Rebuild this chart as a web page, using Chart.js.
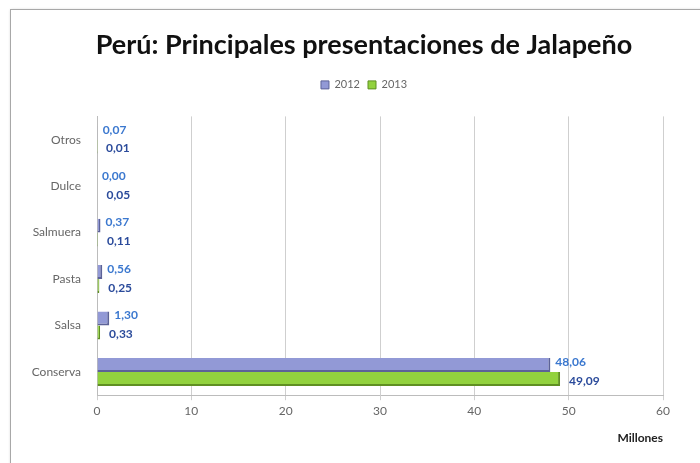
<!DOCTYPE html>
<html>
<head>
<meta charset="utf-8">
<script src="https://cdn.jsdelivr.net/npm/chart.js@4.4.0/dist/chart.umd.min.js"></script>
<style>
  body { margin: 0; background: #fff; }
  #wrap { position: relative; width: 700px; height: 463px; }
  #frame { position: absolute; left: 10px; top: 9px; width: 700px; height: 470px; border: 1px solid #a8a8a8; box-shadow: 1px 1px 3px #bbb; }
  canvas { position: absolute; left: 0; top: 0; }
</style>
</head>
<body>
<div id="wrap">
  <div id="frame"></div>
  <canvas id="jalapenoChart" width="700" height="463"></canvas>
</div>
<script>
// Datos del gráfico
const categories = ['Otros', 'Dulce', 'Salmuera', 'Pasta', 'Salsa', 'Conserva'];
const values2012 = [0.07, 0.00, 0.37, 0.56, 1.30, 48.06];
const values2013 = [0.01, 0.05, 0.11, 0.25, 0.33, 49.09];
const xTicks = [0, 10, 20, 30, 40, 50, 60];

const fontFamily = 'Lato, "Open Sans", sans-serif';

// Etiquetas de valor al final de cada barra
const valueLabels = {
  id: 'valueLabels',
  afterDatasetsDraw(chart) {
    const ctx = chart.ctx;
    ctx.save();
    ctx.font = 'bold 12px ' + fontFamily;
    ctx.textBaseline = 'middle';
    chart.data.datasets.forEach((ds, i) => {
      const meta = chart.getDatasetMeta(i);
      meta.data.forEach((bar, j) => {
        const text = ds.data[j].toFixed(2).replace('.', ',');
        ctx.fillStyle = i === 0 ? '#3b78cf' : '#2b4b9b';
        ctx.fillText(text, bar.x + (i === 0 ? 5 : 9), bar.y + (i === 0 ? -3 : 2));
      });
    });
    ctx.restore();
  }
};

// Espacio extra bajo la leyenda
const legendGap = {
  id: 'legendGap',
  beforeInit(chart) {
    const fit = chart.legend.fit;
    chart.legend.fit = function () {
      fit.bind(chart.legend)();
      this.height += 16;
    };
  }
};

const ctx = document.getElementById('jalapenoChart').getContext('2d');
new Chart(ctx, {
  type: 'bar',
  data: {
    labels: categories,
    datasets: [
      {
        label: '2012',
        data: values2012,
        backgroundColor: '#9299d6',
        borderColor: '#5c6298',
        borderWidth: { top: 0, bottom: 2, right: 2, left: 0 },
      },
      {
        label: '2013',
        data: values2013,
        backgroundColor: '#92d23e',
        borderColor: '#5f8f22',
        borderWidth: { top: 0, bottom: 2, right: 2, left: 0 },
      },
    ],
  },
  options: {
    indexAxis: 'y',
    responsive: false,
    animation: false,
    layout: { padding: { left: 65, right: 37, top: 23, bottom: 14 } },
    categoryPercentage: 0.6,
    barPercentage: 1.0,
    plugins: {
      title: {
        display: true,
        text: 'Perú: Principales presentaciones de Jalapeño',
        color: '#111',
        font: { family: fontFamily, size: 27, weight: 'bold' },
        padding: { top: 6, bottom: 10 },
      },
      legend: {
        display: true,
        labels: {
          boxWidth: 8,
          boxHeight: 8,
          color: '#666',
          font: { family: fontFamily, size: 11 },
          padding: 8,
        },
      },
      tooltip: { enabled: false },
    },
    scales: {
      x: {
        min: 0,
        max: 60,
        afterBuildTicks(scale) {
          scale.ticks = xTicks.map(v => ({ value: v }));
        },
        grid: { color: '#cfcfcf', drawTicks: true, tickLength: 5 },
        border: { color: '#bcbcbc' },
        ticks: { color: '#666', font: { family: fontFamily, size: 12 }, padding: 4 },
        title: {
          display: true,
          text: 'Millones',
          align: 'end',
          color: '#222',
          font: { family: fontFamily, size: 12, weight: 'bold' },
          padding: { top: 8 },
        },
      },
      y: {
        afterFit(scale) {
          // eje estrecho; las etiquetas salen a la izquierda sin recorte
          scale.width = 32;
          scale._computeLabelArea = () => null;
        },
        grid: { display: false, drawTicks: true, tickLength: 4 },
        border: { color: '#bcbcbc' },
        ticks: { color: '#666', font: { family: fontFamily, size: 12 }, padding: 12 },
      },
    },
  },
  plugins: [valueLabels, legendGap],
});
</script>
</body>
</html>
